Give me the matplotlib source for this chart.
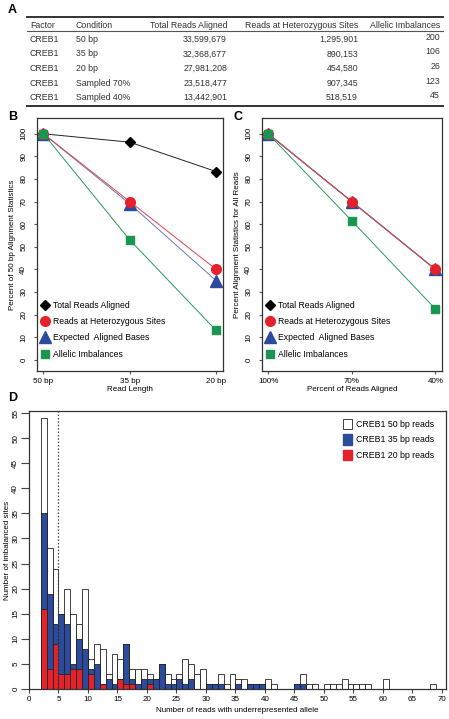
import matplotlib.pyplot as plt
from matplotlib.lines import Line2D
from matplotlib.patches import Patch

plt.rcParams["font.family"] = ["Liberation Sans", "DejaVu Sans"]

# ---- panel A table ----
factors = ["CREB1", "CREB1", "CREB1", "CREB1", "CREB1"]
conditions = ["50 bp", "35 bp", "20 bp", "Sampled 70%", "Sampled 40%"]
total_reads = ["33,599,679", "32,368,677", "27,981,208", "23,518,477", "13,442,901"]
het_reads = ["1,295,901", "890,153", "454,580", "907,345", "518,519"]
imbalances = ["200", "106", "26", "123", "45"]

# ---- panel B / C ----
b_labels = ["50 bp", "35 bp", "20 bp"]
b_total = [100, 96.3, 83.3]
b_het = [100, 70, 40]
b_expected = [100, 69, 35]
b_imbal = [100, 53, 13]

c_labels = ["100%", "70%", "40%"]
c_total = [100, 70, 40]
c_het = [100, 70, 40]
c_expected = [100, 70, 40]
c_imbal = [100, 61.5, 22.5]

# ---- panel D histogram (left bin edge, count) ----
bins_50 = [2, 3, 4, 5, 6, 7, 8, 9, 10, 11, 12, 13, 14, 15, 16, 17, 18, 19, 20, 21,
           22, 23, 24, 25, 26, 27, 28, 29, 30, 31, 32, 33, 34, 35, 36, 37, 38, 39,
           40, 41, 45, 46, 47, 48, 50, 51, 52, 53, 54, 55, 56, 57, 60, 68]
counts_50 = [54, 28, 24, 15, 20, 15, 13, 20, 6, 9, 8, 3, 7, 6, 9, 4, 4, 4, 3, 2,
             5, 3, 2, 3, 6, 5, 3, 4, 1, 1, 3, 1, 3, 2, 2, 1, 1, 1,
             2, 1, 1, 3, 1, 1, 1, 1, 1, 2, 1, 1, 1, 1, 2, 1]
bins_35 = [2, 3, 4, 5, 6, 7, 8, 9, 10, 11, 12, 13, 14, 15, 16, 17, 18, 19, 20, 21,
           22, 23, 24, 25, 26, 27, 30, 31, 32, 35, 37, 38, 39, 45, 46]
counts_35 = [35, 19, 13, 15, 13, 5, 10, 8, 4, 5, 1, 2, 1, 2, 9, 2, 1, 2, 2, 2,
             5, 1, 1, 2, 1, 2, 1, 1, 1, 1, 1, 1, 1, 1, 1]
bins_20 = [2, 3, 4, 5, 6, 7, 8, 10, 12, 15, 16, 17, 20]
counts_20 = [16, 4, 9, 3, 3, 4, 4, 3, 1, 2, 1, 1, 1]

RED = "#e5222b"
BLUE = "#2d4b9c"
GREEN = "#1b9650"
FS = 5.8
FT = 6.3

fig = plt.figure(figsize=(4.49, 7.19), dpi=100)
W, H = 449, 719


def px_axes(x0, y0, x1, y1):
    return fig.add_axes([x0 / W, 1 - y1 / H, (x1 - x0) / W, (y1 - y0) / H])


# panel letters
for letter, (x, y) in zip("ABCD", [(8, 10), (8, 117), (233, 117), (8, 398)]):
    fig.text(x / W, 1 - y / H, letter, fontsize=9, fontweight="bold", va="center")

# ---- table A ----
ax_a = px_axes(0, 0, 449, 112)
ax_a.set_xlim(0, W)
ax_a.set_ylim(112, 0)
ax_a.axis("off")
ax_a.plot([27, 443], [17, 17], color="#333", lw=1.4)
ax_a.plot([27, 443], [31, 31], color="#555", lw=0.8)
ax_a.plot([27, 443], [106, 106], color="#333", lw=1.4)
hdr_y = 25
ax_a.text(30, hdr_y, "Factor", fontsize=FT, va="center", color="#333")
ax_a.text(76, hdr_y, "Condition", fontsize=FT, va="center", color="#333")
ax_a.text(227, hdr_y, "Total Reads Aligned", fontsize=FT, va="center", ha="right", color="#333")
ax_a.text(358, hdr_y, "Reads at Heterozygous Sites", fontsize=FT, va="center", ha="right", color="#333")
ax_a.text(440, hdr_y, "Allelic Imbalances", fontsize=FT, va="center", ha="right", color="#333")
row_y = [39.5, 54, 68.5, 83, 97.5]
for i, y in enumerate(row_y):
    ax_a.text(30, y, factors[i], fontsize=FT, va="center", color="#333")
    ax_a.text(76, y, conditions[i], fontsize=FT, va="center", color="#333")
    ax_a.text(227, y, total_reads[i], fontsize=FT, va="center", ha="right", color="#333")
    ax_a.text(358, y, het_reads[i], fontsize=FT, va="center", ha="right", color="#333")
    ax_a.text(440, y - 2, imbalances[i], fontsize=FT, va="center", ha="right", color="#333")


def line_panel(ax, labels, total, het, expected, imbal, xlabel, ylabel):
    xs = range(len(labels))
    ax.plot(xs, total, color="#222", lw=0.7, marker="D", ms=5.5, mfc="black", mec="black")
    ax.plot(xs, expected, color="#6e76b5", lw=0.7, marker="^", ms=8, mfc=BLUE, mec=BLUE)
    ax.plot(xs, het, color="#d9454d", lw=0.7, marker="o", ms=7, mfc=RED, mec=RED)
    ax.plot(xs, imbal, color="#2a9a5c", lw=0.7, marker="s", ms=6.3, mfc=GREEN, mec=GREEN)
    ax.set_xlim(-0.075, 2.08)
    ax.set_ylim(-5, 107)
    ax.set_xticks(list(xs))
    ax.set_xticklabels(labels)
    ax.set_yticks(range(0, 101, 10))
    ax.tick_params(axis="y", labelrotation=90, labelsize=FS, length=2, pad=5, color="#555")
    for t in ax.get_yticklabels():
        t.set_va("center")
    ax.tick_params(axis="x", labelsize=FS, length=2, pad=3, color="#555")
    ax.set_xlabel(xlabel, fontsize=FS, labelpad=1)
    ax.set_ylabel(ylabel, fontsize=FS, labelpad=3)
    for s in ax.spines.values():
        s.set_color("#333")
        s.set_linewidth(0.9)
    handles = [
        Line2D([], [], ls="none", marker="D", ms=5.5, color="black"),
        Line2D([], [], ls="none", marker="o", ms=7, color=RED),
        Line2D([], [], ls="none", marker="^", ms=8, color=BLUE),
        Line2D([], [], ls="none", marker="s", ms=6.3, color=GREEN),
    ]
    names = ["Total Reads Aligned", "Reads at Heterozygous Sites",
             "Expected  Aligned Bases", "Allelic Imbalances"]
    ax.legend(handles, names, loc="lower left", frameon=False, fontsize=6.2,
              handlelength=0.8, handletextpad=0.6, labelspacing=0.85,
              borderaxespad=0.0, bbox_to_anchor=(0.005, 0.035))


ax_b = px_axes(37, 118, 223, 371)
line_panel(ax_b, b_labels, b_total, b_het, b_expected, b_imbal,
           "Read Length", "Percent of 50 bp Alignment Statistics")
ax_c = px_axes(262, 118, 442, 371)
line_panel(ax_c, c_labels, c_total, c_het, c_expected, c_imbal,
           "Percent of Reads Aligned", "Percent Alignment Statistics for All Reads")

# ---- histogram D ----
ax_d = px_axes(29, 411, 446, 689)
ax_d.bar(bins_50, counts_50, width=1, align="edge", color="white", edgecolor="#222", lw=0.6)
ax_d.bar(bins_35, counts_35, width=1, align="edge", color=BLUE, edgecolor="#222", lw=0.6)
ax_d.bar(bins_20, counts_20, width=1, align="edge", color=RED, edgecolor="#222", lw=0.6)
ax_d.axvline(5, color="#444", lw=0.9, ls=(0, (1.2, 1.5)))
ax_d.set_xlim(0, 70.7)
ax_d.set_ylim(0, 55.4)
ax_d.set_xticks(range(0, 71, 5))
ax_d.set_yticks(range(0, 56, 5))
ax_d.tick_params(axis="y", labelrotation=90, labelsize=FS, length=5.5, pad=1.5, color="#444")
for t in ax_d.get_yticklabels():
    t.set_va("center")
ax_d.tick_params(axis="x", labelsize=FS, length=3, pad=2, color="#444")
ax_d.set_xlabel("Number of reads with underrepresented allele", fontsize=FS, labelpad=3)
ax_d.set_ylabel("Number of imbalanced sites", fontsize=FS, labelpad=1)
for s in ax_d.spines.values():
    s.set_color("#333")
    s.set_linewidth(0.9)
leg_handles = [Patch(facecolor="white", edgecolor="#222", lw=0.6),
               Patch(facecolor=BLUE, edgecolor=BLUE),
               Patch(facecolor=RED, edgecolor=RED)]
ax_d.legend(leg_handles, ["CREB1 50 bp reads", "CREB1 35 bp reads", "CREB1 20 bp reads"],
            loc="upper left", frameon=False, fontsize=FT, handlelength=1.0,
            handleheight=1.5, handletextpad=0.45, labelspacing=0.55, borderaxespad=0.0,
            bbox_to_anchor=(0.745, 0.985))

fig.savefig("out.png", dpi=100)
